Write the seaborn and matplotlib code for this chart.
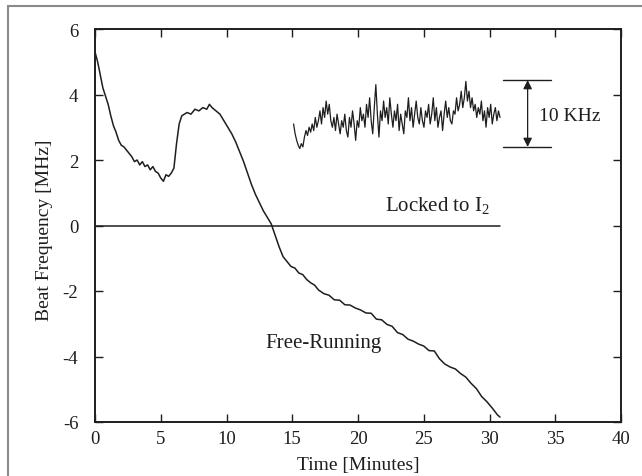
import numpy as np
import pandas as pd
import matplotlib
matplotlib.use("Agg")
import matplotlib.pyplot as plt
from matplotlib.lines import Line2D
import seaborn as sns

# --- datos ---
tiempo_libre = [0.0, 0.2, 0.4, 0.6, 0.8, 1.0, 1.2, 1.4, 1.6, 1.8, 2.0, 2.2, 2.4, 2.6, 2.8,
                3.0, 3.2, 3.4, 3.6, 3.8, 4.0, 4.2, 4.4, 4.6, 4.8, 5.0, 5.2, 5.4, 5.6, 5.8,
                6.0, 6.2, 6.4, 6.6, 6.8, 7.0, 7.3, 7.6, 7.9, 8.2, 8.5, 8.7, 8.9, 9.2, 9.5,
                9.8, 10.1, 10.4, 10.7, 11.0, 11.3, 11.6, 11.9, 12.2, 12.5, 12.8, 13.1, 13.4,
                13.7, 14.0, 14.3, 14.6, 14.9, 15.2, 15.5, 15.8, 16.1, 16.4, 16.7, 17.0, 17.4,
                17.8, 18.2, 18.6, 19.0, 19.4, 19.8, 20.2, 20.6, 21.0, 21.4, 21.8, 22.2, 22.6,
                23.0, 23.4, 23.8, 24.2, 24.6, 25.0, 25.4, 25.8, 26.2, 26.6, 27.0, 27.4, 27.8,
                28.2, 28.6, 29.0, 29.4, 29.8, 30.2, 30.6, 30.8]
frec_libre = [5.3, 5.0, 4.6, 4.2, 3.95, 3.7, 3.35, 3.05, 2.85, 2.6, 2.45, 2.4, 2.3, 2.2, 2.1,
              1.95, 2.0, 1.85, 1.95, 1.8, 1.85, 1.7, 1.8, 1.65, 1.6, 1.45, 1.35, 1.55, 1.5, 1.6,
              1.75, 2.5, 3.1, 3.35, 3.4, 3.45, 3.4, 3.55, 3.5, 3.6, 3.55, 3.7, 3.6, 3.5, 3.4,
              3.2, 3.0, 2.8, 2.55, 2.25, 1.95, 1.6, 1.25, 0.95, 0.7, 0.45, 0.25, 0.05,
              -0.3, -0.65, -0.95, -1.1, -1.25, -1.3, -1.45, -1.5, -1.65, -1.75, -1.82, -1.97, -2.08,
              -2.13, -2.27, -2.28, -2.42, -2.43, -2.52, -2.58, -2.67, -2.68, -2.86, -2.88, -3.02, -3.08,
              -3.27, -3.33, -3.47, -3.53, -3.62, -3.68, -3.82, -3.83, -4.07, -4.23, -4.32, -4.38, -4.52,
              -4.63, -4.82, -4.98, -5.22, -5.38, -5.57, -5.78, -5.85]

inicio_ruido, fin_ruido = 15.1, 30.8
frec_ruido = [3.1, 2.8, 2.6, 2.45, 2.35, 2.5, 2.4, 2.7, 2.9, 2.75, 3.0,
              2.85, 3.1, 2.9, 3.3, 3.0, 3.2, 3.5, 3.1, 3.6, 3.3, 3.8, 3.4, 3.7, 3.2, 3.0, 3.3, 2.9, 3.4, 3.1,
              2.8, 3.2, 3.0, 3.4, 2.9, 2.7, 3.3, 3.0, 3.5, 3.1, 2.6, 3.2, 3.0, 3.6, 3.2, 3.4, 3.0, 3.7,
              3.3, 3.9, 3.2, 2.8, 3.6, 4.3, 3.4, 2.7, 3.5, 3.2, 3.8, 3.3, 3.6, 3.1, 3.9, 3.4, 3.0, 3.5,
              3.2, 3.7, 2.9, 3.4, 3.1, 2.8, 3.5, 3.3, 3.9, 3.2, 3.6, 3.0, 3.4, 3.8, 3.3, 3.1, 3.6, 3.2,
              3.0, 3.5, 3.3, 3.7, 3.1, 3.4, 3.9, 3.2, 3.6, 3.0, 3.3, 3.5, 2.9, 3.4, 3.8, 3.3, 3.6, 3.2,
              3.1, 3.5, 3.4, 3.9, 3.5, 3.7, 4.1, 3.6, 3.9, 4.4, 3.8, 4.1, 3.6, 3.9, 3.5, 3.7,
              3.3, 3.6, 3.4, 3.8, 3.2, 3.5, 3.0, 3.6, 3.3, 3.7, 3.1, 3.4, 3.6, 3.2, 3.5, 3.3]
tiempo_ruido = np.linspace(inicio_ruido, fin_ruido, len(frec_ruido))

tiempo_bloqueado = [0.0, 30.8]
frec_bloqueado = [0.0, 0.0]

escala_inf, escala_sup = 2.4, 4.44   # barra de 10 KHz
escala_x = [31.0, 34.7]

xticks = [0, 5, 10, 15, 20, 25, 30, 35, 40]
yticks = [-6, -4, -2, 0, 2, 4, 6]

df_libre = pd.DataFrame({"t": tiempo_libre, "f": frec_libre})
df_ruido = pd.DataFrame({"t": tiempo_ruido, "f": frec_ruido})
df_bloq = pd.DataFrame({"t": tiempo_bloqueado, "f": frec_bloqueado})

# --- estilo ---
sns.set_style("ticks")
plt.rcParams["font.family"] = ["Liberation Serif", "DejaVu Serif"]
plt.rcParams["mathtext.fontset"] = "custom"
plt.rcParams["mathtext.rm"] = "Liberation Serif"
plt.rcParams["axes.unicode_minus"] = False

tinta = "#1e1e1e"
fig = plt.figure(figsize=(6.42, 4.77), dpi=100)
ax = fig.add_axes([95 / 642, 1 - 423 / 477, (621 - 95) / 642, (423 - 30) / 477])

sns.lineplot(data=df_libre, x="t", y="f", ax=ax, color=tinta, lw=1.1, estimator=None, sort=False)
sns.lineplot(data=df_ruido, x="t", y="f", ax=ax, color=tinta, lw=0.9, estimator=None, sort=False)
sns.lineplot(data=df_bloq, x="t", y="f", ax=ax, color=tinta, lw=1.1, estimator=None, sort=False)

# barra de escala 10 KHz
ax.plot(escala_x, [escala_sup, escala_sup], color=tinta, lw=1.0)
ax.plot(escala_x, [escala_inf, escala_inf], color=tinta, lw=1.0)
xm = 32.9
ax.annotate("", xy=(xm, escala_sup), xytext=(xm, escala_inf),
            arrowprops=dict(arrowstyle="<|-|>", color=tinta, lw=0.9, mutation_scale=13,
                            shrinkA=0, shrinkB=0))
ax.text(33.8, 3.35, "10 KHz", fontsize=14, va="center", ha="left", color=tinta)
ax.text(30.0, 0.28, "Locked to I$_2$", fontsize=15, va="bottom", ha="right", color=tinta)
ax.text(17.4, -3.56, "Free-Running", fontsize=15, va="center", ha="center", color=tinta)

ax.set_xlim(0, 40)
ax.set_ylim(-6, 6)
ax.set_xticks(xticks)
ax.set_yticks(yticks)
ax.tick_params(direction="in", length=6, width=1.0, top=True, right=True,
               labelsize=13.5, colors=tinta)
ax.tick_params(axis="x", pad=6)
ax.tick_params(axis="y", pad=12)
for s in ax.spines.values():
    s.set_linewidth(1.4)
    s.set_color(tinta)

ax.set_xlabel("Time [Minutes]", fontsize=14, color=tinta)
ax.set_ylabel("Beat Frequency [MHz]", fontsize=14, color=tinta)
ax.xaxis.set_label_coords(0.5, -0.086)
ax.yaxis.set_label_coords(-0.08, 0.49)

# marco exterior recortado
fig.add_artist(Line2D([8 / 642, 8 / 642], [0, 1 - 7 / 477], transform=fig.transFigure,
                      color="#8a8a8a", lw=1.5))
fig.add_artist(Line2D([8 / 642, 1], [1 - 7 / 477, 1 - 7 / 477], transform=fig.transFigure,
                      color="#8a8a8a", lw=1.5))

fig.savefig("out.png", dpi=100)
